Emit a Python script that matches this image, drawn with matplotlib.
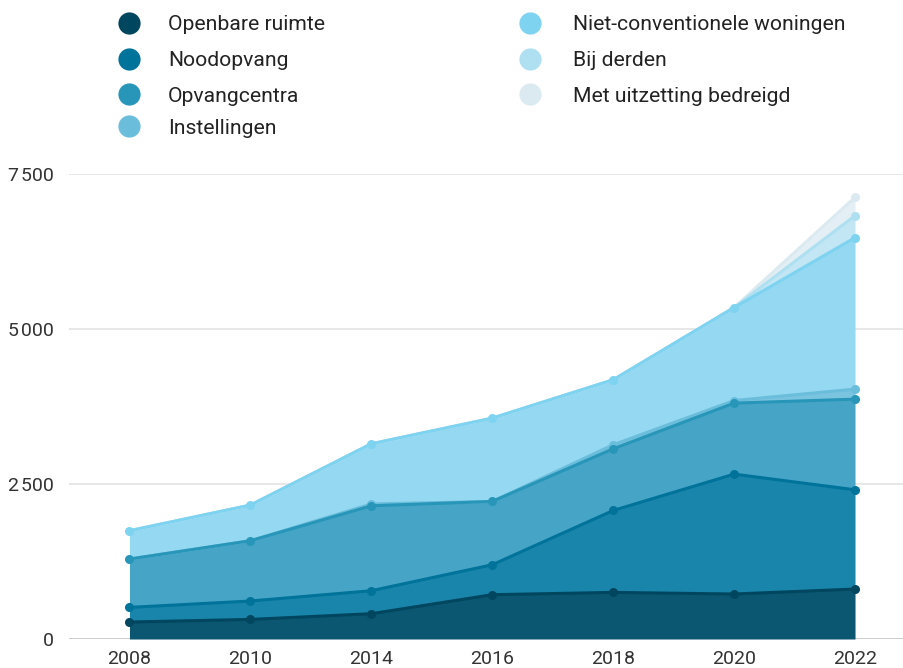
import numpy as np
import matplotlib
matplotlib.use("Agg")
import matplotlib.pyplot as plt
from matplotlib.lines import Line2D

plt.rcParams['font.family'] = ['Roboto', 'DejaVu Sans']

years = ["2008", "2010", "2014", "2016", "2018", "2020", "2022"]
series_names = ["Openbare ruimte", "Noodopvang", "Opvangcentra", "Instellingen",
                "Niet-conventionele woningen", "Bij derden", "Met uitzetting bedreigd"]
openbare_ruimte = [274, 316, 408, 715, 752, 726, 806]
noodopvang = [236, 297, 371, 483, 1322, 1935, 1602]
opvangcentra = [780, 973, 1371, 1022, 996, 1146, 1463]
instellingen = [0, 0, 30, 0, 64, 42, 162]
niet_conventioneel = [457, 575, 970, 1344, 1049, 1500, 2445]
bij_derden = [0, 0, 0, 0, 0, 0, 355]
met_uitzetting = [0, 0, 0, 0, 0, 0, 297]
yticks = [0, 2500, 5000, 7500]
ytick_labels = ["0", "2\u200a500", "5\u200a000", "7\u200a500"]

data = [openbare_ruimte, noodopvang, opvangcentra, instellingen,
        niet_conventioneel, bij_derden, met_uitzetting]

line_colors = ['#00465f', '#00739a', '#2896b8', '#6bbddc', '#7dd3f0', '#aee0f2', '#dbeaf0']
fill_colors = ['#0b5670', '#1985aa', '#46a4c6', '#7ac4e0', '#94d8f1', '#c2e6f4', '#e3eff4']

W, H = 904, 668
fig = plt.figure(figsize=(W / 100, H / 100), dpi=100)
ax = fig.add_axes([69 / W, 1 - 639 / H, 1 - 69 / W, (639 - 174.3) / H])

x = np.arange(len(years))
arr = np.array(data, dtype=float)
cum = np.cumsum(arr, axis=0)
bottoms = np.vstack([np.zeros(len(years)), cum[:-1]])

n = len(series_names)
for i in range(n):
    z = 10 + (n - i)
    ax.fill_between(x, bottoms[i], cum[i], color=fill_colors[i], linewidth=0, zorder=2)
    ax.plot(x, cum[i], color=line_colors[i], linewidth=2.2, zorder=z,
            solid_joinstyle='round', solid_capstyle='round')
    mask = arr[i] > 0
    ax.plot(x[mask], cum[i][mask], 'o', color=line_colors[i], markersize=6.5,
            markeredgewidth=0, zorder=z + 0.5, clip_on=False)

ax.set_xlim(-0.5, 6.405)
ax.set_ylim(0, 7500)
ax.set_yticks(yticks)
ax.set_yticklabels(ytick_labels)
ax.set_xticks(x)
ax.set_xticklabels(years)
ax.tick_params(axis='both', length=0, labelsize=14, colors='#333333')
ax.tick_params(axis='y', pad=11)
ax.tick_params(axis='x', pad=8)
for s in ax.spines.values():
    s.set_visible(False)
ax.grid(axis='y', color='#e0e0e0', linewidth=1.1, zorder=0)
ax.set_axisbelow(True)
ax.axhline(0, color='#cccccc', linewidth=1.3, zorder=1)

# legend
col_marker_x = [129, 530]
col_text_x = [168, 573]
row_y = [23, 59, 94, 126]
for i, name in enumerate(series_names):
    c, r = divmod(i, 4)
    fx = col_marker_x[c] / W
    fy = 1 - row_y[r] / H
    fig.add_artist(Line2D([fx], [fy], marker='o', markersize=16, markeredgewidth=0,
                          color=line_colors[i], transform=fig.transFigure))
    fig.text(col_text_x[c] / W, fy - 2 / H, name, fontsize=15.2, color='#222222',
             ha='left', va='center')

fig.savefig("out.png", dpi=100)
